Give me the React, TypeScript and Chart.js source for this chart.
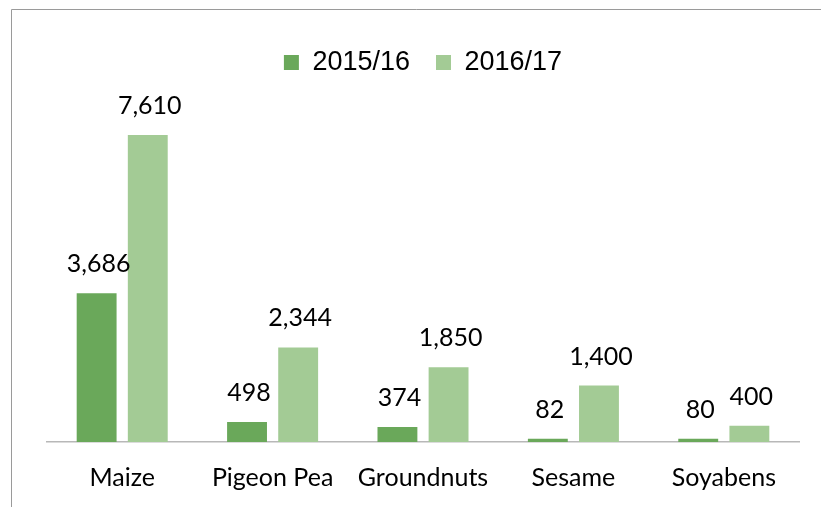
import React, { useEffect, useRef } from "react";
import { Chart, registerables } from "chart.js";

Chart.register(...registerables);

const categories = ["Maize", "Pigeon Pea", "Groundnuts", "Sesame", "Soyabens"];
const seriesNames = ["2015/16", "2016/17"];
const values2015 = [3686, 498, 374, 82, 80];
const values2016 = [7610, 2344, 1850, 1400, 400];

const DARK = "#6AA85A";
const LIGHT = "#A3CB95";

const framePlugin = {
  id: "frame",
  beforeDraw(chart: any) {
    const ctx = chart.ctx;
    ctx.save();
    ctx.fillStyle = "#ffffff";
    ctx.fillRect(0, 0, chart.width, chart.height);
    ctx.strokeStyle = "#9a9a9a";
    ctx.lineWidth = 1;
    ctx.beginPath();
    ctx.moveTo(11.5, chart.height + 5);
    ctx.lineTo(11.5, 9.5);
    ctx.lineTo(chart.width + 5, 9.5);
    ctx.stroke();
    ctx.restore();
  },
};

const labelPlugin = {
  id: "valueLabels",
  afterDatasetsDraw(chart: any) {
    const ctx = chart.ctx;
    ctx.save();
    ctx.fillStyle = "#000000";
    ctx.font = "25px Lato";
    ctx.textAlign = "center";
    ctx.textBaseline = "alphabetic";
    chart.data.datasets.forEach((ds: any, i: number) => {
      const meta = chart.getDatasetMeta(i);
      meta.data.forEach((bar: any, j: number) => {
        const v = ds.data[j] as number;
        ctx.fillText(v.toLocaleString("en-US"), bar.x + 2, bar.y - 21);
      });
    });
    ctx.restore();
  },
};

export default function App() {
  const ref = useRef<HTMLCanvasElement>(null);
  useEffect(() => {
    if (!ref.current) return;
    const chart = new Chart(ref.current, {
      type: "bar",
      data: {
        labels: categories,
        datasets: [
          { label: seriesNames[0], data: values2015, backgroundColor: DARK },
          { label: seriesNames[1], data: values2016, backgroundColor: LIGHT },
        ],
      },
      options: {
        responsive: false,
        animation: false,
        layout: { padding: { left: 47, right: 22, top: 23, bottom: 0 } },
        datasets: {
          bar: { categoryPercentage: 0.68, barPercentage: 0.78 },
        } as any,
        plugins: {
          legend: {
            display: true,
            position: "top",
            labels: {
              boxWidth: 15,
              boxHeight: 15,
              padding: 26,
              color: "#000000",
              font: { family: "Liberation Sans", size: 27 },
            },
          },
          tooltip: { enabled: false },
        },
        scales: {
          x: {
            grid: { display: false },
            border: { display: true, color: "#b8b8b8", width: 1.5 },
            ticks: {
              color: "#000000",
              font: { family: "Lato", size: 25 },
              padding: 13,
            },
            afterFit(scale: any) {
              scale.height = 65;
            },
          },
          y: {
            display: false,
            min: 0,
            max: 8825,
          },
        },
      },
      plugins: [framePlugin, labelPlugin],
    });
    return () => chart.destroy();
  }, []);
  return (
    <div style={{ position: "fixed", left: 0, top: 0, width: 821, height: 507 }}>
      <canvas ref={ref} width={821} height={507} style={{ display: "block" }} />
    </div>
  );
}
